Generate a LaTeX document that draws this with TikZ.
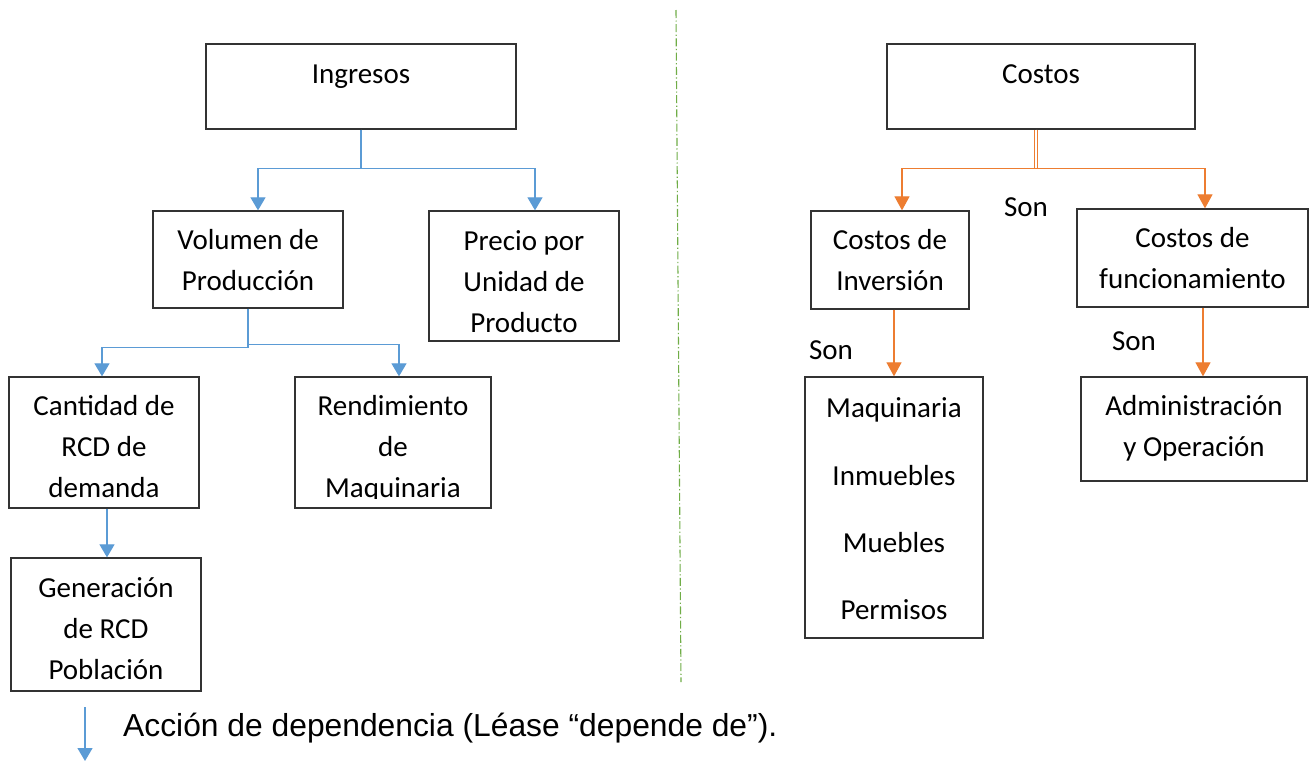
\documentclass[tikz,border=0pt]{standalone}
\usepackage{fontspec}
\setmainfont{Carlito}
\newfontfamily\arialf{Liberation Sans}
\usetikzlibrary{arrows.meta}
\definecolor{blu}{HTML}{5B9BD5}
\definecolor{ora}{HTML}{ED7D31}
\definecolor{grn}{HTML}{70AD47}
\definecolor{boxc}{HTML}{333333}
\tikzset{
  box/.style={draw=boxc, line width=1.3pt, inner sep=0pt},
  txt/.style={font=\fontsize{29}{41}\selectfont, align=center, inner sep=0pt},
  barr/.style={draw=blu, line width=1.2pt, -{Triangle[length=13pt,width=15pt]}},
  oarr/.style={draw=ora, line width=1.2pt, -{Triangle[length=14pt,width=15pt]}},
  divider/.style={draw=grn, line width=1.1pt, dash pattern=on 8pt off 2.5pt on 1.2pt off 2.5pt},
}
\begin{document}
\begin{tikzpicture}[x=1pt,y=-1pt]
\fill[white] (0,0) rectangle (1309,761);
\useasboundingbox (0,0) rectangle (1309,761);

% boxes
\node[box, minimum width=310pt, minimum height=85pt] (ing) at (361,86.5) {};
\node[box, minimum width=308pt, minimum height=85pt] (cos) at (1041,86.5) {};
\node[box, minimum width=190pt, minimum height=97pt] (vol) at (248,259.5) {};
\node[box, minimum width=190pt, minimum height=130pt] (pre) at (524,276) {};
\node[box, minimum width=190pt, minimum height=131pt] (can) at (104,442.5) {};
\node[box, minimum width=196pt, minimum height=131pt] (ren) at (393,442.5) {};
\node[box, minimum width=190pt, minimum height=133pt] (gen) at (106,624.5) {};
\node[box, minimum width=158pt, minimum height=98pt] (inv) at (890,260) {};
\node[box, minimum width=231pt, minimum height=98pt] (fun) at (1192.5,258) {};
\node[box, minimum width=178pt, minimum height=261pt] (maq) at (894,507.5) {};
\node[box, minimum width=226pt, minimum height=104pt] (adm) at (1194,429) {};

% texts
\node[txt] (ingT) at (361,75.4) {\strut Ingresos};
\node[txt] (cosT) at (1041,75.4) {\strut Costos};
\node[txt] (volT) at (248,262) {\strut Volumen de\\Producción\strut};
\node[txt] (preT) at (524,283.4) {\strut Precio por\\Unidad de\\Producto\strut};
\node[txt] (canT) at (104,448.4) {\strut Cantidad de\\RCD de\\demanda\strut};
\begin{scope}
  \clip (295,377) rectangle (491,498);
  \node[txt] (renT) at (393,448.4) {\strut Rendimiento\\de\\Maquinaria\strut};
\end{scope}
\node[txt] (genT) at (106,630.4) {\strut Generación\\de RCD\\Población\strut};
\node[txt] (invT) at (890,262) {\strut Costos de\\Inversión\strut};
\node[txt] (funT) at (1192.5,260) {\strut Costos de\\funcionamiento\strut};
\node[txt, font=\fontsize{29}{67.3}\selectfont] (maqT) at (894,505.4) {\strut Maquinaria\\Inmuebles\\Muebles\\Permisos\strut};
\node[txt] (admT) at (1194,428) {\strut Administración\\y Operación\strut};

\node[txt] (son1) at (1026,207) {Son};
\node[txt] (son2) at (831,350) {Son};
\node[txt] (son3) at (1134,341) {Son};

% blue connectors
\draw[barr] (ing.south) -- ++(0,39) -| ([xshift=10pt]vol.north);
\draw[barr] (ing.south) -- ++(0,39) -| ([xshift=11pt]pre.north);
\draw[barr] (vol.south) -- ++(0,39) -| ([xshift=-2pt]can.north);
\draw[barr] (vol.south) -- ++(0,36) -| ([xshift=6pt]ren.north);
\draw[barr] ([xshift=3pt]can.south) -- ([xshift=1pt]gen.north);

% orange connectors
\draw[draw=ora, line width=0.9pt, double=white, double distance=2pt] ([xshift=-5pt]cos.south) -- ++(0,39) coordinate (cj);
\draw[oarr] (cj) -| ([xshift=12pt]inv.north);
\draw[oarr] (cj) -| ([xshift=12.5pt]fun.north);
\draw[oarr] (inv.south -| maq.north) -- (maq.north);
\coordinate (admIn) at ([xshift=9pt]adm.north);
\draw[oarr] (fun.south -| admIn) -- (admIn);

% divider
\coordinate (dvA) at (676,10);
\coordinate (dvB) at (681,682);
\draw[divider] (dvA) -- (dvB);

% legend
\coordinate (lgA) at (85,707);
\coordinate (lgB) at (85,761);
\draw[barr] (lgA) -- (lgB);
\node[anchor=base west, inner sep=0pt, font=\arialf\fontsize{31.8}{36}\selectfont] (lgT) at (123,736) {Acción de dependencia (Léase “depende de”).};
\end{tikzpicture}
\end{document}
